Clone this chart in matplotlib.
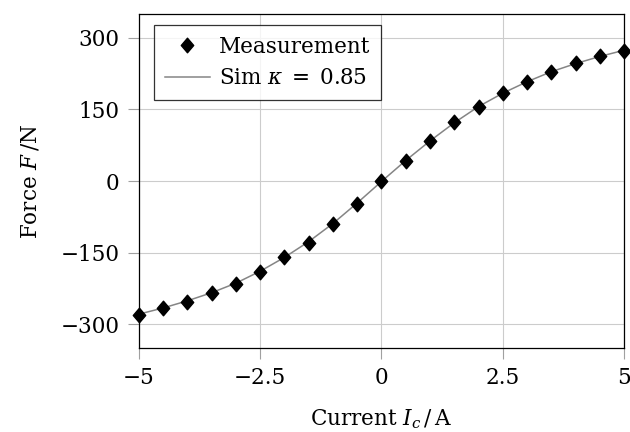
import numpy as np
import matplotlib.pyplot as plt
from matplotlib.path import Path

# Coil current sweep and measured / simulated force
current = [-5.0, -4.5, -4.0, -3.5, -3.0, -2.5, -2.0, -1.5, -1.0, -0.5, 0.0,
           0.5, 1.0, 1.5, 2.0, 2.5, 3.0, 3.5, 4.0, 4.5, 5.0]
force_meas = [-281, -267, -253, -234, -215, -190, -160, -129, -90, -48, -1,
              42, 84, 123, 156, 184, 207, 229, 247, 261, 273]
force_sim = [-279, -266, -251, -234, -214, -189, -160, -127, -89, -46, -1,
             43, 84, 122, 156, 184, 208, 229, 246, 261, 274]

xticks = [-5, -2.5, 0, 2.5, 5]
xticklabels = ['\u22125', '\u22122.5', '0', '2.5', '5']
yticks = [-300, -150, 0, 150, 300]
yticklabels = ['\u2212300', '\u2212150', '0', '150', '300']

plt.rcParams['font.family'] = ['DejaVu Serif']
plt.rcParams['mathtext.fontset'] = 'dejavuserif'

# slightly narrow diamond like the pgfplots one
diamond = Path([(0, 1), (0.85, 0), (0, -1), (-0.85, 0), (0, 1)],
               [Path.MOVETO, Path.LINETO, Path.LINETO, Path.LINETO, Path.CLOSEPOLY])

fig = plt.figure(figsize=(6.3, 4.32), dpi=100)
ax = fig.add_axes([0.2206, 0.1944, 0.7699, 0.7732])

ax.plot(current, force_sim, color='#858585', lw=1.1, zorder=2,
        label=r'Sim $\kappa\;=\;0.85$')
ax.plot(current, force_meas, ls='none', marker=diamond, ms=10.5,
        color='black', zorder=3, clip_on=False, label='Measurement')

ax.set_xlim(-5, 5)
ax.set_ylim(-350, 350)
ax.set_xticks(xticks)
ax.set_xticklabels(xticklabels)
ax.set_yticks(yticks)
ax.set_yticklabels(yticklabels)
ax.tick_params(direction='out', length=8, width=0.8, color='#a0a0a0',
               labelsize=15.5)
ax.tick_params(axis='x', pad=6)
ax.tick_params(axis='y', pad=6)
ax.grid(True, color='#cccccc', lw=0.8)
ax.set_axisbelow(True)
for sp in ax.spines.values():
    sp.set_linewidth(0.9)
    sp.set_color('black')

ax.set_xlabel(r'Current $I_c\,/\,\mathrm{A}$', fontsize=15.5, labelpad=13)
ax.set_ylabel(r'Force $F\,/\mathrm{N}$', fontsize=15.5, labelpad=14)

handles, labels = ax.get_legend_handles_labels()
leg = ax.legend(handles[::-1], labels[::-1], loc='upper left',
                bbox_to_anchor=(0.031, 0.967), borderaxespad=0,
                fontsize=15.5, frameon=True, fancybox=False, edgecolor='black',
                handlelength=2.1, handletextpad=0.4,
                borderpad=0.5, labelspacing=0.45)
leg.get_frame().set_linewidth(0.9)

fig.savefig('out.png', dpi=100)
